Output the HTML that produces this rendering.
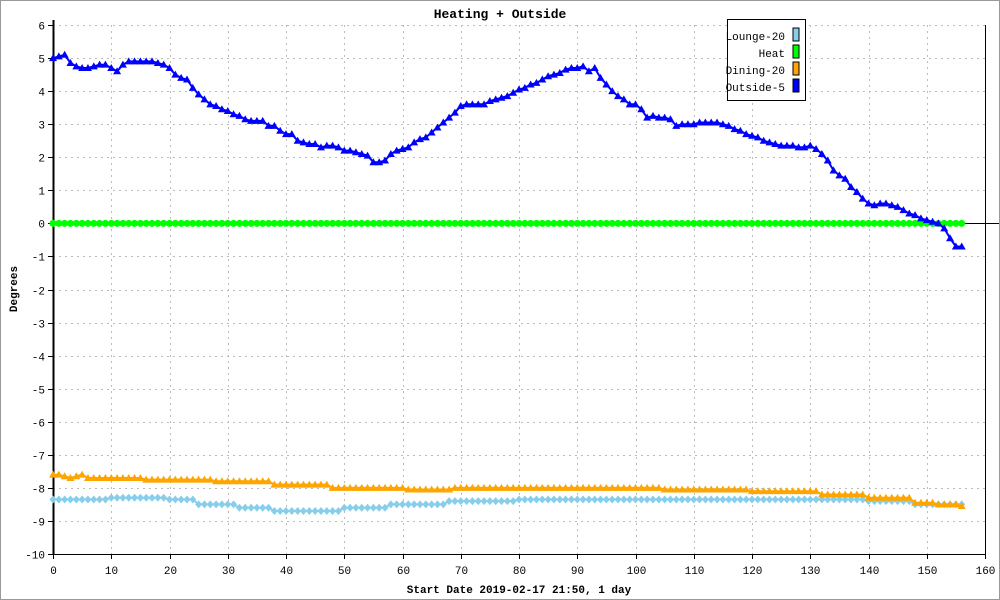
<!DOCTYPE html>
<html><head><meta charset="utf-8"><style>
html,body{margin:0;padding:0;background:#fff;}
svg{display:block;font-family:"Liberation Mono",monospace;}
</style></head><body>
<svg id="chart" width="1000" height="600" viewBox="0 0 1000 600">
<rect x="0.5" y="0.5" width="999" height="599" fill="#fff" stroke="#999"/>
<text x="500" y="18" text-anchor="middle" font-size="13" font-weight="bold">Heating + Outside</text>
<text transform="translate(17,289) rotate(-90)" text-anchor="middle" font-size="11" font-weight="bold">Degrees</text>
<text x="519" y="593" text-anchor="middle" font-size="11" font-weight="bold">Start Date 2019-02-17 21:50, 1 day</text>
<g id="grid"></g>
<g id="axes"></g>
<g id="series"></g>
<g>
<rect x="727.5" y="19.5" width="78" height="81" fill="#fff" stroke="#000"/>
<g><text x="785" y="40" text-anchor="end" font-size="11">Lounge-20</text><rect x="793" y="28" width="6" height="13" fill="#87ceeb" stroke="#000"/></g>
<g><text x="785" y="57" text-anchor="end" font-size="11">Heat</text><rect x="793" y="45" width="6" height="13" fill="#00ff00" stroke="#000"/></g>
<g><text x="785" y="74" text-anchor="end" font-size="11">Dining-20</text><rect x="793" y="62" width="6" height="13" fill="#ffa500" stroke="#000"/></g>
<g><text x="785" y="91" text-anchor="end" font-size="11">Outside-5</text><rect x="793" y="79" width="6" height="13" fill="#0000ff" stroke="#000"/></g>
</g>
</svg>
<script>
const xTicks = [0,10,20,30,40,50,60,70,80,90,100,110,120,130,140,150,160];
const yTicks = [6,5,4,3,2,1,0,-1,-2,-3,-4,-5,-6,-7,-8,-9,-10];
const outside = [5.0,5.05,5.1,4.85,4.75,4.7,4.7,4.75,4.8,4.8,4.7,4.6,4.8,4.9,4.9,4.9,4.9,4.9,4.85,4.8,
4.7,4.5,4.4,4.35,4.1,3.9,3.75,3.6,3.55,3.45,3.4,3.3,3.25,3.15,3.1,3.1,3.1,2.95,2.95,2.8,
2.7,2.7,2.5,2.45,2.4,2.4,2.3,2.35,2.35,2.3,2.2,2.2,2.15,2.1,2.05,1.85,1.85,1.9,2.1,2.2,
2.25,2.3,2.45,2.55,2.6,2.75,2.9,3.05,3.2,3.35,3.55,3.6,3.6,3.6,3.6,3.7,3.75,3.8,3.85,3.95,
4.05,4.1,4.2,4.25,4.35,4.45,4.5,4.55,4.65,4.7,4.7,4.75,4.6,4.7,4.4,4.2,4.0,3.85,3.75,3.6,
3.6,3.45,3.2,3.25,3.2,3.2,3.15,2.95,3.0,3.0,3.0,3.05,3.05,3.05,3.05,3.0,2.95,2.85,2.8,2.7,
2.65,2.6,2.5,2.45,2.4,2.35,2.35,2.35,2.3,2.3,2.35,2.25,2.1,1.9,1.6,1.45,1.35,1.1,0.95,0.75,
0.6,0.55,0.6,0.6,0.55,0.5,0.4,0.3,0.25,0.15,0.1,0.05,0.0,-0.15,-0.45,-0.7,-0.7];
const heat = [0,0,0,0,0,0,0,0,0,0,0,0,0,0,0,0,0,0,0,0,0,0,0,0,0,0,0,0,0,0,0,0,0,0,0,0,0,0,0,0,
0,0,0,0,0,0,0,0,0,0,0,0,0,0,0,0,0,0,0,0,0,0,0,0,0,0,0,0,0,0,0,0,0,0,0,0,0,0,0,0,
0,0,0,0,0,0,0,0,0,0,0,0,0,0,0,0,0,0,0,0,0,0,0,0,0,0,0,0,0,0,0,0,0,0,0,0,0,0,0,0,
0,0,0,0,0,0,0,0,0,0,0,0,0,0,0,0,0,0,0,0,0,0,0,0,0,0,0,0,0,0,0,0,0,0,0,0,0];
const dining = [-7.6,-7.6,-7.65,-7.7,-7.65,-7.6,
-7.7,-7.7,-7.7,-7.7,-7.7,-7.7,-7.7,-7.7,-7.7,-7.7,
-7.75,-7.75,-7.75,-7.75,-7.75,-7.75,-7.75,-7.75,-7.75,-7.75,-7.75,-7.75,
-7.8,-7.8,-7.8,-7.8,-7.8,-7.8,-7.8,-7.8,-7.8,-7.8,
-7.9,-7.9,-7.9,-7.9,-7.9,-7.9,-7.9,-7.9,-7.9,-7.9,
-8.0,-8.0,-8.0,-8.0,-8.0,-8.0,-8.0,-8.0,-8.0,-8.0,-8.0,-8.0,-8.0,
-8.05,-8.05,-8.05,-8.05,-8.05,-8.05,-8.05,-8.05,
-8.0,-8.0,-8.0,-8.0,-8.0,-8.0,-8.0,-8.0,-8.0,-8.0,-8.0,-8.0,-8.0,-8.0,-8.0,-8.0,-8.0,-8.0,
-8.0,-8.0,-8.0,-8.0,-8.0,-8.0,-8.0,-8.0,-8.0,-8.0,-8.0,-8.0,-8.0,-8.0,-8.0,-8.0,-8.0,-8.0,
-8.05,-8.05,-8.05,-8.05,-8.05,-8.05,-8.05,-8.05,-8.05,-8.05,-8.05,-8.05,-8.05,-8.05,-8.05,
-8.1,-8.1,-8.1,-8.1,-8.1,-8.1,-8.1,-8.1,-8.1,-8.1,-8.1,-8.1,
-8.2,-8.2,-8.2,-8.2,-8.2,-8.2,-8.2,-8.2,
-8.3,-8.3,-8.3,-8.3,-8.3,-8.3,-8.3,-8.3,
-8.45,-8.45,-8.45,-8.45,-8.5,-8.5,-8.5,-8.5,-8.55];
const lounge = [-8.35,-8.35,-8.35,-8.35,-8.35,-8.35,-8.35,-8.35,-8.35,-8.35,
-8.3,-8.3,-8.3,-8.3,-8.3,-8.3,-8.3,-8.3,-8.3,-8.3,
-8.35,-8.35,-8.35,-8.35,-8.35,
-8.5,-8.5,-8.5,-8.5,-8.5,-8.5,-8.5,
-8.6,-8.6,-8.6,-8.6,-8.6,-8.6,
-8.7,-8.7,-8.7,-8.7,-8.7,-8.7,-8.7,-8.7,-8.7,-8.7,-8.7,-8.7,
-8.6,-8.6,-8.6,-8.6,-8.6,-8.6,-8.6,-8.6,
-8.5,-8.5,-8.5,-8.5,-8.5,-8.5,-8.5,-8.5,-8.5,-8.5,
-8.4,-8.4,-8.4,-8.4,-8.4,-8.4,-8.4,-8.4,-8.4,-8.4,-8.4,-8.4,
-8.35,-8.35,-8.35,-8.35,-8.35,-8.35,-8.35,-8.35,-8.35,-8.35,-8.35,-8.35,-8.35,-8.35,-8.35,
-8.35,-8.35,-8.35,-8.35,-8.35,-8.35,-8.35,-8.35,-8.35,-8.35,-8.35,-8.35,-8.35,-8.35,-8.35,
-8.35,-8.35,-8.35,-8.35,-8.35,-8.35,-8.35,-8.35,-8.35,-8.35,-8.35,-8.35,-8.35,-8.35,-8.35,
-8.35,-8.35,-8.35,-8.35,-8.35,-8.35,-8.35,-8.35,-8.35,-8.35,-8.35,-8.35,-8.35,-8.35,-8.35,
-8.4,-8.4,-8.4,-8.4,-8.4,-8.4,-8.4,-8.4,
-8.5,-8.5,-8.5,-8.5,-8.5,-8.5,-8.5,-8.5,-8.5];

const NS='http://www.w3.org/2000/svg';
const L=53,R=985,T=25,B=554;
function xs(v){return L+(v-0)/(160-0)*(R-L);}
function ys(v){return T+(6-v)/(6-(-10))*(B-T);}
function mk(tag,attrs,parent){const e=document.createElementNS(NS,tag);for(const k in attrs)e.setAttribute(k,attrs[k]);parent.appendChild(e);return e;}
const grid=document.getElementById('grid'),axes=document.getElementById('axes'),ser=document.getElementById('series');

xTicks.forEach(t=>{
  const x=Math.round(xs(t))+0.5;
  if(t>0&&t<160){const g=mk('line',{x1:x,x2:x,y1:T,y2:B,stroke:'#bbb','stroke-dasharray':'2,4'},grid);
  
  }
  const tk=mk('line',{x1:x,x2:x,y1:B,y2:B+5,stroke:'#000'},axes);
  
  
  const lb=mk('text',{x:x,y:B+20,'text-anchor':'middle','font-size':'11'},axes);
  lb.textContent=t;
  
  
});
yTicks.forEach(t=>{
  const y=Math.round(ys(t))+0.5;
  if(t!==-10&&t!==0){const g=mk('line',{x1:L,x2:R,y1:y,y2:y,stroke:'#bbb','stroke-dasharray':'2,4'},grid);
  
  }
  const tk=mk('line',{x1:L-5,x2:L,y1:y,y2:y,stroke:'#000'},axes);
  
  
  const lb=mk('text',{x:L-8,y:y+4,'text-anchor':'end','font-size':'11'},axes);
  lb.textContent=t;
  
  
});
const zl=mk('line',{x1:L,x2:999,y1:Math.round(ys(0))+0.5,y2:Math.round(ys(0))+0.5,stroke:'#000'},axes);


const ya=mk('line',{x1:L+0.5,x2:L+0.5,y1:T-5,y2:B,stroke:'#000','stroke-width':'2'},axes);


const xa=mk('line',{x1:L,x2:R,y1:B+0.5,y2:B+0.5,stroke:'#000'},axes);


const rb=mk('line',{x1:R+0.5,x2:R+0.5,y1:T,y2:B,stroke:'#000'},axes);



function drawSeries(vals,color,shape,name){
  const g=mk('g',{},ser);
  
  
  const pts=vals.map((v,i)=>xs(i).toFixed(1)+','+ys(v).toFixed(1)).join(' ');
  const pl=mk('polyline',{points:pts,fill:'none',stroke:color,'stroke-width':'2'},g);
  
  
  vals.forEach((v,i)=>{
    const x=xs(i),y=ys(v);let m;
    if(shape==='tri') m=mk('polygon',{points:`${x-4},${y+3} ${x+4},${y+3} ${x},${y-4}`,fill:color},g);
    else if(shape==='circ') m=mk('circle',{cx:x,cy:y,r:3.5,fill:color},g);
    else m=mk('polygon',{points:`${x},${y-4} ${x+3.5},${y} ${x},${y+4} ${x-3.5},${y}`,fill:color},g);
    
    
  });
}
drawSeries(lounge,'#87ceeb','dia','lounge-series');
drawSeries(dining,'#ffa500','tri','dining-series');
drawSeries(heat,'#00ff00','circ','heat-series');
drawSeries(outside,'#0000ff','tri','outside-series');
</script>
</body></html>
